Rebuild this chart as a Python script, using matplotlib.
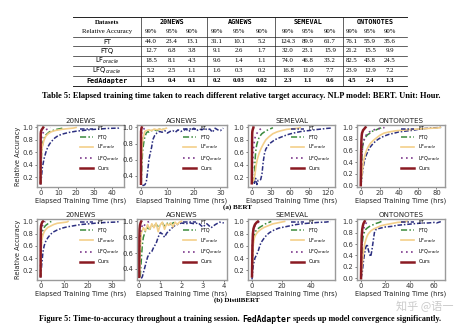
import matplotlib
matplotlib.use("Agg")
import matplotlib.pyplot as plt
from matplotlib.lines import Line2D

W, H = 474, 332

# ---------------- table data ----------------
datasets = ["20NEWS", "AGNEWS", "SEMEVAL", "ONTONOTES"]
targets = ["99%", "95%", "90%"]
row_names = ["FT", "FTQ", r"LF$_{oracle}$", r"LFQ$_{oracle}$", "FedAdapter"]
table_vals = [
    ["44.0", "23.4", "13.1", "31.1", "10.1", "5.2", "124.3", "89.9", "61.7", "76.1", "55.9", "35.6"],
    ["12.7", "6.8", "3.8", "9.1", "2.6", "1.7", "32.0", "23.1", "15.9", "21.2", "15.5", "9.9"],
    ["18.5", "8.1", "4.3", "9.6", "1.4", "1.1", "74.0", "46.8", "33.2", "82.5", "43.8", "24.5"],
    ["5.2", "2.5", "1.1", "1.6", "0.3", "0.2", "16.8", "11.0", "7.7", "23.9", "12.9", "7.2"],
    ["1.3", "0.4", "0.1", "0.2", "0.03", "0.02", "2.3", "1.1", "0.6", "4.5", "2.4", "1.3"],
]

# ---------------- curve data: (time in hrs, relative accuracy) ----------------
series_labels = ["FT", "FTQ", r"LF$_{oracle}$", r"LFQ$_{oracle}$", "Ours"]

bert = {
    "20NEWS": {
        "FT": ([0, 0.5, 1, 2, 3, 4, 5, 6, 8, 10, 13.1, 16, 20, 23.4, 28, 33, 38, 44, 45],
               [0.08, 0.2, 0.35, 0.5, 0.6, 0.68, 0.73, 0.77, 0.83, 0.87, 0.90, 0.92, 0.94, 0.95, 0.965, 0.975, 0.985, 0.99, 1.0]),
        "FTQ": ([0, 0.3, 0.6, 1, 1.5, 2, 3, 3.8, 5, 6.8, 9, 12.7, 13],
                [0.1, 0.4, 0.6, 0.7, 0.78, 0.83, 0.88, 0.9, 0.93, 0.95, 0.97, 0.99, 1.0]),
        "LF": ([0, 0.3, 0.6, 1, 2, 3, 4.3, 6, 8.1, 12, 15, 18.5, 20],
               [0.1, 0.45, 0.6, 0.7, 0.8, 0.86, 0.9, 0.93, 0.95, 0.97, 0.98, 0.99, 1.0]),
        "LFQ": ([0, 0.2, 0.5, 0.8, 1.1, 1.8, 2.5, 3.5, 5.2, 5.6],
                [0.1, 0.6, 0.8, 0.87, 0.9, 0.93, 0.95, 0.97, 0.99, 1.0]),
        "Ours": ([0, 0.05, 0.1, 0.2, 0.4, 0.8, 1.3, 1.5],
                 [0.1, 0.7, 0.9, 0.93, 0.95, 0.97, 0.99, 1.0]),
    },
    "AGNEWS": {
        "FT": ([0.5, 1, 1.5, 2, 2.5, 3, 3.5, 4, 4.5, 5.2, 6, 7, 8, 9, 10, 11, 12, 13, 14, 15, 16, 17, 18, 19, 20,
                21, 22, 23, 24, 25, 26, 27, 28, 29, 30, 31.1],
               [0.28, 0.28, 0.29, 0.32, 0.45, 0.6, 0.68, 0.75, 0.85, 0.90, 0.93, 0.95, 0.94, 0.96, 0.93, 0.95, 0.96,
                0.94, 0.97, 0.95, 0.96, 0.98, 0.95, 0.97, 0.99, 0.96, 0.98, 0.97, 0.99, 0.97, 0.98, 0.94, 0.99, 0.97,
                0.96, 0.99]),
        "FTQ": ([0.1, 0.3, 0.6, 1, 1.3, 1.7, 2, 2.6, 3, 4, 5, 6, 7, 8, 9.1],
                [0.3, 0.5, 0.7, 0.8, 0.86, 0.9, 0.93, 0.95, 0.94, 0.96, 0.97, 0.96, 0.98, 0.97, 0.99]),
        "LF": ([0.05, 0.2, 0.5, 0.8, 1.1, 1.4, 2, 3, 4, 5, 6, 7, 8, 9.6],
               [0.3, 0.6, 0.8, 0.87, 0.9, 0.95, 0.96, 0.97, 0.96, 0.98, 0.97, 0.98, 0.97, 0.99]),
        "LFQ": ([0.02, 0.1, 0.2, 0.3, 0.6, 1.0, 1.6, 1.8],
                [0.3, 0.8, 0.9, 0.95, 0.96, 0.98, 0.99, 1.0]),
        "Ours": ([0, 0.01, 0.02, 0.03, 0.1, 0.2, 0.3],
                 [0.3, 0.75, 0.9, 0.95, 0.97, 0.99, 1.0]),
    },
    "SEMEVAL": {
        "FT": ([0, 2, 4, 6, 8, 10, 12, 14, 16, 18, 20, 22, 25, 28, 32, 36, 40, 45, 50, 55, 61.7, 70, 80, 89.9, 100,
                110, 118, 124.3, 126],
               [0.12, 0.2, 0.1, 0.18, 0.08, 0.15, 0.15, 0.16, 0.25, 0.45, 0.58, 0.65, 0.7, 0.74, 0.77, 0.8, 0.82,
                0.84, 0.86, 0.88, 0.90, 0.92, 0.94, 0.95, 0.965, 0.975, 0.985, 0.99, 1.0]),
        "FTQ": ([0, 2, 4, 5, 6, 7, 8, 10, 12, 15.9, 20, 23.1, 27, 32, 33],
                [0.1, 0.15, 0.2, 0.45, 0.6, 0.68, 0.73, 0.8, 0.85, 0.9, 0.93, 0.95, 0.97, 0.99, 1.0]),
        "LF": ([0, 3, 5, 7, 9, 12, 15, 18, 22, 27, 33.2, 40, 46.8, 55, 65, 74, 76],
               [0.1, 0.15, 0.25, 0.4, 0.5, 0.6, 0.67, 0.73, 0.8, 0.85, 0.9, 0.93, 0.95, 0.97, 0.98, 0.99, 1.0]),
        "LFQ": ([0, 1, 2, 3, 4, 5, 6, 7.7, 9, 11, 13, 16.8, 18],
                [0.1, 0.3, 0.55, 0.7, 0.78, 0.83, 0.87, 0.9, 0.92, 0.95, 0.97, 0.99, 1.0]),
        "Ours": ([0, 0.2, 0.4, 0.6, 0.8, 1.1, 1.6, 2.3, 2.5],
                 [0.1, 0.5, 0.75, 0.9, 0.93, 0.95, 0.97, 0.99, 1.0]),
    },
    "ONTONOTES": {
        "FT": ([0, 1, 2, 3, 4, 5, 6, 8, 10, 12, 15, 18, 21, 25, 30, 35.6, 40, 45, 50, 55.9, 62, 68, 76.1, 82, 85],
               [0.0, 0.1, 0.25, 0.35, 0.42, 0.48, 0.53, 0.6, 0.66, 0.7, 0.75, 0.79, 0.82, 0.85, 0.88, 0.90, 0.92,
                0.93, 0.94, 0.95, 0.97, 0.98, 0.99, 0.995, 1.0]),
        "FTQ": ([0, 0.5, 1, 1.5, 2, 3, 4, 5.5, 7, 9.9, 12, 15.5, 18, 21.2, 22],
                [0.0, 0.2, 0.45, 0.6, 0.68, 0.76, 0.8, 0.84, 0.87, 0.9, 0.93, 0.95, 0.97, 0.99, 1.0]),
        "LF": ([0, 1, 2, 3, 4, 6, 8, 10, 13, 16, 20, 24.5, 30, 37, 43.8, 50, 60, 70, 82.5, 84],
               [0.0, 0.15, 0.3, 0.42, 0.5, 0.6, 0.67, 0.72, 0.77, 0.81, 0.86, 0.9, 0.92, 0.94, 0.95, 0.96, 0.97,
                0.98, 0.99, 1.0]),
        "LFQ": ([0, 0.5, 1, 2, 3, 4, 5, 7.2, 9, 12.9, 16, 20, 23.9, 25],
                [0.0, 0.3, 0.5, 0.68, 0.76, 0.81, 0.85, 0.9, 0.92, 0.95, 0.97, 0.98, 0.99, 1.0]),
        "Ours": ([0, 0.3, 0.6, 1, 1.3, 2, 2.4, 3.5, 4.5, 5],
                 [0.0, 0.5, 0.75, 0.86, 0.9, 0.93, 0.95, 0.97, 0.99, 1.0]),
    },
}

distilbert = {
    "20NEWS": {
        "FT": ([0, 0.5, 1, 1.5, 2, 3, 4, 5, 7, 9, 11, 14, 17, 20, 24, 28, 32, 33],
               [0.08, 0.3, 0.5, 0.6, 0.66, 0.73, 0.78, 0.82, 0.86, 0.89, 0.91, 0.93, 0.95, 0.96, 0.975, 0.985, 0.99, 1.0]),
        "FTQ": ([0, 0.2, 0.4, 0.7, 1, 1.5, 2, 3, 4, 4.5],
                [0.1, 0.5, 0.7, 0.8, 0.86, 0.9, 0.93, 0.96, 0.99, 1.0]),
        "LF": ([0, 0.2, 0.5, 1, 1.5, 2, 3, 4, 5.5, 7, 9, 11, 11.5],
               [0.1, 0.5, 0.7, 0.78, 0.83, 0.86, 0.9, 0.92, 0.95, 0.97, 0.98, 0.99, 1.0]),
        "LFQ": ([0, 0.1, 0.3, 0.5, 0.8, 1.2, 1.6, 2],
                [0.1, 0.6, 0.8, 0.88, 0.93, 0.96, 0.99, 1.0]),
        "Ours": ([0, 0.05, 0.1, 0.2, 0.4, 0.7, 1.0],
                 [0.1, 0.7, 0.88, 0.93, 0.96, 0.99, 1.0]),
    },
    "AGNEWS": {
        "FT": ([0.1, 0.15, 0.2, 0.3, 0.4, 0.5, 0.6, 0.7, 0.8, 0.9, 1.0, 1.1, 1.2, 1.3, 1.4, 1.5, 1.6, 1.7, 1.8,
                1.9, 2.0, 2.2, 2.4, 2.6, 2.8, 3.0, 3.2, 3.4, 3.6, 3.8, 4.0],
               [0.28, 0.3, 0.35, 0.45, 0.55, 0.6, 0.62, 0.68, 0.72, 0.8, 0.86, 0.84, 0.8, 0.85, 0.88, 0.9, 0.93,
                0.95, 0.96, 0.97, 0.98, 0.97, 0.98, 0.97, 0.98, 0.93, 0.97, 0.92, 0.96, 0.99, 0.98]),
        "FTQ": ([0.05, 0.1, 0.15, 0.2, 0.3, 0.4, 0.5, 0.6, 0.7, 0.8, 0.9, 1.0, 1.1, 1.2, 1.3, 1.4, 1.5, 1.6, 1.7],
                [0.3, 0.5, 0.7, 0.8, 0.88, 0.92, 0.9, 0.95, 0.93, 0.97, 0.92, 0.96, 0.98, 0.94, 0.97, 0.99, 0.96,
                 0.98, 0.99]),
        "LF": ([0.02, 0.05, 0.1, 0.2, 0.3, 0.4, 0.5, 0.6, 0.7, 0.8, 0.9, 1.0, 1.1, 1.2, 1.3, 1.4, 1.5, 1.6, 1.7,
                1.8, 1.9, 2.0],
               [0.3, 0.6, 0.85, 0.92, 0.88, 0.96, 0.9, 0.97, 0.92, 0.98, 0.87, 0.96, 0.99, 0.9, 0.97, 0.95, 0.98,
                0.93, 0.99, 0.96, 0.99, 1.0]),
        "LFQ": ([0.01, 0.03, 0.06, 0.1, 0.15, 0.2, 0.3, 0.4, 0.5],
                [0.3, 0.7, 0.85, 0.9, 0.95, 0.93, 0.97, 0.99, 1.0]),
        "Ours": ([0, 0.01, 0.02, 0.04, 0.06, 0.08, 0.1],
                 [0.3, 0.8, 0.9, 0.95, 0.97, 0.99, 1.0]),
    },
    "SEMEVAL": {
        "FT": ([0, 0.5, 1, 2, 3, 4, 5, 6, 8, 10, 12, 15, 18, 22, 26, 30, 35, 40, 45, 50, 53],
               [0.05, 0.2, 0.3, 0.4, 0.45, 0.5, 0.58, 0.65, 0.72, 0.78, 0.82, 0.86, 0.89, 0.91, 0.93, 0.95, 0.965,
                0.975, 0.985, 0.99, 1.0]),
        "FTQ": ([0, 0.5, 1, 1.5, 2, 3, 4, 5, 7, 9, 11, 13],
                [0.1, 0.5, 0.7, 0.78, 0.82, 0.86, 0.88, 0.9, 0.93, 0.96, 0.98, 1.0]),
        "LF": ([0, 0.5, 1, 1.5, 2, 3, 4, 6, 8, 11, 14, 18, 22],
               [0.1, 0.5, 0.65, 0.72, 0.76, 0.8, 0.83, 0.87, 0.9, 0.93, 0.96, 0.98, 1.0]),
        "LFQ": ([0, 0.3, 0.6, 1, 1.5, 2, 3, 4, 5],
                [0.1, 0.6, 0.78, 0.85, 0.9, 0.93, 0.96, 0.98, 1.0]),
        "Ours": ([0, 0.3, 0.6, 1, 1.5, 2, 3, 4],
                 [0.1, 0.6, 0.8, 0.88, 0.92, 0.95, 0.98, 1.0]),
    },
    "ONTONOTES": {
        "FT": ([0, 1, 2, 3, 4, 5, 6, 7, 8, 9, 10, 11, 12, 14, 16, 20, 25, 30, 35, 40, 45, 50, 55, 60, 62, 65, 67],
               [0.0, 0.1, 0.3, 0.45, 0.55, 0.6, 0.5, 0.42, 0.38, 0.5, 0.65, 0.8, 0.85, 0.87, 0.88, 0.9, 0.91, 0.93,
                0.94, 0.95, 0.96, 0.97, 0.97, 0.98, 0.97, 0.99, 1.0]),
        "FTQ": ([0, 0.5, 1, 1.5, 2, 3, 4, 5, 7, 9, 12, 15, 17],
                [0.0, 0.4, 0.6, 0.7, 0.76, 0.82, 0.86, 0.88, 0.91, 0.93, 0.96, 0.98, 1.0]),
        "LF": ([0, 1, 2, 3, 4, 5, 6, 8, 10, 13, 16, 20, 25, 30, 35, 38],
               [0.0, 0.25, 0.45, 0.6, 0.68, 0.74, 0.78, 0.83, 0.86, 0.89, 0.92, 0.94, 0.96, 0.98, 0.99, 1.0]),
        "LFQ": ([0, 0.5, 1, 1.5, 2, 3, 4, 5],
                [0.0, 0.5, 0.7, 0.8, 0.86, 0.92, 0.96, 1.0]),
        "Ours": ([0, 0.3, 0.6, 1, 1.5, 2, 2.5, 3],
                 [0.0, 0.5, 0.75, 0.86, 0.92, 0.96, 0.98, 1.0]),
    },
}

# axis settings per panel: x limits, x ticks, y limits, y ticks
bert_axes = {
    "20NEWS": ((-2, 47), [0, 10, 20, 30, 40], (0.04, 1.04), [0.2, 0.4, 0.6, 0.8, 1.0]),
    "AGNEWS": ((-1.5, 32.5), [0, 10, 20, 30], (0.26, 1.03), [0.4, 0.6, 0.8, 1.0]),
    "SEMEVAL": ((-6, 131), [0, 30, 60, 90, 120], (0.04, 1.04), [0.2, 0.4, 0.6, 0.8, 1.0]),
    "ONTONOTES": ((-4, 89), [0, 20, 40, 60, 80], (-0.03, 1.04), [0.0, 0.2, 0.4, 0.6, 0.8, 1.0]),
}
distil_axes = {
    "20NEWS": ((-1.5, 35), [0, 10, 20, 30], (0.04, 1.04), [0.2, 0.4, 0.6, 0.8, 1.0]),
    "AGNEWS": ((-0.1, 4.15), [0, 1, 2, 3, 4], (0.26, 1.03), [0.4, 0.6, 0.8, 1.0]),
    "SEMEVAL": ((-2.7, 56), [0, 20, 40], (0.04, 1.04), [0.2, 0.4, 0.6, 0.8, 1.0]),
    "ONTONOTES": ((-3.3, 69), [0, 20, 40, 60], (-0.03, 1.04), [0.0, 0.2, 0.4, 0.6, 0.8, 1.0]),
}

styles = {
    "FT": dict(color="#2c2f80", ls=(0, (3.0, 1.2, 1, 1.2)), lw=1.1),
    "FTQ": dict(color="#3a8a3c", ls=(0, (4, 1.5, 1, 1.5)), lw=1.1),
    "LF": dict(color="#f3cf8a", ls="-", lw=1.2),
    "LFQ": dict(color="#7d3a8c", ls=(0, (1, 2.0)), lw=1.2),
    "Ours": dict(color="#8a1a22", ls="-", lw=1.8),
}
keys = ["FT", "FTQ", "LF", "LFQ", "Ours"]

fig = plt.figure(figsize=(W / 100, H / 100), dpi=100)
fig.patch.set_facecolor("white")


def fx(x):
    return x / W


def fy(y):
    return 1 - y / H


def hline(y, x0, x1, lw=0.5):
    fig.add_artist(Line2D([fx(x0), fx(x1)], [fy(y), fy(y)], color="#222222", lw=lw))


def vline(x, y0, y1, lw=0.5):
    fig.add_artist(Line2D([fx(x), fx(x)], [fy(y0), fy(y1)], color="#222222", lw=lw))


# ---------------- table ----------------
serif = "Liberation Serif"
mono = "DejaVu Sans Mono"
sans = "DejaVu Sans"
tfs = 4.9
tab_l, tab_r = 73, 407
col_sep = [141, 207, 275, 343]
col_x = [151, 172, 192, 217, 239, 262, 288, 308, 330, 352, 370, 390]
group_x = [172, 240, 308, 375]
row_y = [41.5, 51, 61, 71, 81]

hline(16.5, tab_l, tab_r, 0.7)
hline(36.5, tab_l, tab_r)
for y in [46.3, 56.2, 66.2, 76.2]:
    hline(y, tab_l, tab_r)
hline(86.2, tab_l, tab_r, 0.7)
for x in col_sep:
    vline(x, 16.5, 86.2)

fig.text(fx(107), fy(22), "Datasets", family=serif, weight="bold", size=tfs, ha="center", va="center")
fig.text(fx(107), fy(31.5), "Relative Accuracy", family=serif, size=tfs, ha="center", va="center")
for name, gx in zip(datasets, group_x):
    fig.text(fx(gx), fy(22), name, family=mono, weight="bold", size=tfs, ha="center", va="center")
for i, cx in enumerate(col_x):
    fig.text(fx(cx), fy(31.5), targets[i % 3], family=serif, size=tfs, ha="center", va="center")
for r, (name, ry) in enumerate(zip(row_names, row_y)):
    last = r == len(row_names) - 1
    fig.text(fx(107), fy(ry), name, family=mono if last else sans,
             weight="bold" if last else "normal", size=tfs, ha="center", va="center")
    for cx, v in zip(col_x, table_vals[r]):
        fig.text(fx(cx), fy(ry), v, family=serif, weight="bold" if last else "normal",
                 size=tfs, ha="center", va="center")

fig.text(fx(241), fy(96), "Table 5: Elapsed training time taken to reach different relative target accuracy. "
         "NLP model: BERT. Unit: Hour.", family=serif, weight="bold", size=6.0, ha="center", va="center")

# ---------------- panels ----------------
col_px = [(37, 124), (137, 227), (248, 335), (357, 445)]
rows = [((125, 187), bert, bert_axes), ((219, 280), distilbert, distil_axes)]

for (top, bot), data, axcfg in rows:
    for j, name in enumerate(datasets):
        l, r = col_px[j]
        ax = fig.add_axes([fx(l), fy(bot), (r - l) / W, (bot - top) / H])
        for k, lab in zip(keys, series_labels):
            t, a = data[name][k]
            ax.plot(t, a, label=lab, **styles[k])
        xl, xt, yl, yt = axcfg[name]
        ax.set_xlim(*xl)
        ax.set_ylim(*yl)
        ax.set_xticks(xt)
        ax.set_yticks(yt)
        ax.set_yticklabels([f"{v:.1f}" for v in yt])
        ax.tick_params(labelsize=4.9, length=1.5, width=0.5, pad=1, colors="#444444", labelcolor="#333333")
        for s in ax.spines.values():
            s.set_color("#9a9a9a")
            s.set_linewidth(1.0)
        ax.set_title(name, fontsize=5.1, pad=1.5, color="#222222")
        ax.set_xlabel("Elapsed Training Time (hrs)", fontsize=4.8, labelpad=0.8, color="#222222")
        if j == 0:
            ax.set_ylabel("Relative Accuracy", fontsize=4.8, labelpad=1, color="#222222")
        ax.legend(loc="lower right", bbox_to_anchor=(0.99, 0.2), frameon=False, fontsize=3.6,
                  handlelength=2.6, labelspacing=0.6, borderpad=0.2, handletextpad=0.8)

fig.text(fx(237), fy(207), "(a) BERT", family=serif, weight="bold", size=5.0, ha="center", va="center")
fig.text(fx(237), fy(300), "(b) DistilBERT", family=serif, weight="bold", size=5.0, ha="center", va="center")

# figure caption with the system name set in typewriter type
cap_parts = [
    ("Figure 5: Time-to-accuracy throughout a training session. ", serif),
    ("FedAdapter", mono),
    (" speeds up model convergence significantly.", serif),
]
renderer = fig.canvas.get_renderer()
texts = []
for s, fam in cap_parts:
    texts.append(fig.text(0, fy(319), s, family=fam, weight="bold", size=5.9, va="center", ha="left"))
widths = [t.get_window_extent(renderer).width for t in texts]
x0 = 240 - sum(widths) / 2
for t, w in zip(texts, widths):
    t.set_x(fx(x0))
    x0 += w

fig.text(fx(425), fy(306.5), "知乎 @语一", family=["Noto Sans CJK SC", "DejaVu Sans"], size=8,
         color="#bdbdbd", alpha=0.8, ha="center", va="center")

fig.savefig("out.png", dpi=100)
